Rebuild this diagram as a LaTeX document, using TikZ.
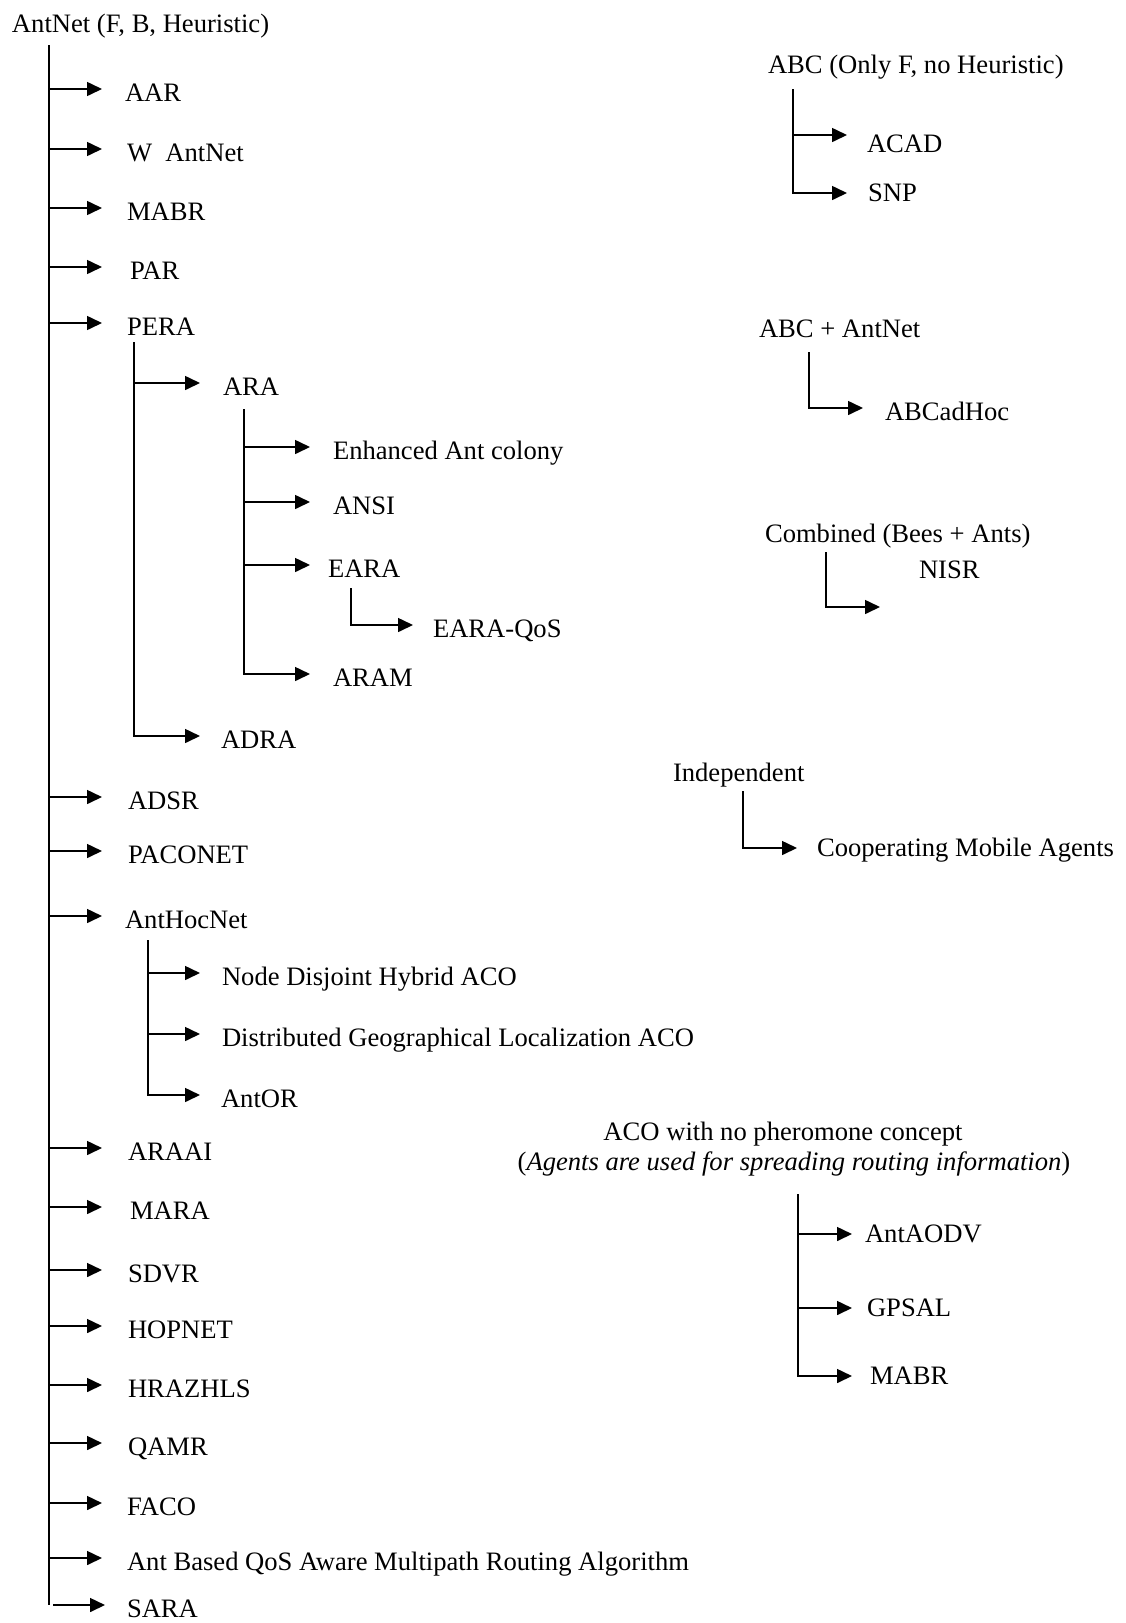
\documentclass[tikz,border=0pt]{standalone}
\usepackage{fontspec}
\setmainfont{Liberation Serif}
\usetikzlibrary{arrows.meta}
\tikzset{>={Triangle[length=15pt,width=14pt]}}

\begin{document}
\begin{tikzpicture}[x=1pt, y=-1pt, font=\fontsize{26.6}{30}\selectfont,
  item/.style={anchor=west, inner xsep=25pt, inner ysep=0pt, outer sep=0pt, text height=24pt, text depth=0pt},
  ritem/.style={item, text height=16pt},
  head/.style={anchor=base west, inner sep=0pt, outer sep=0pt},
  trunk/.style={line width=2.2pt},
  stem/.style={line width=1.6pt},
  branch/.style={->, line width=1.6pt}]
\useasboundingbox (0,0) rectangle (1126,1623);

\node[head] (antnet) at (12,32) {AntNet (F, B, Heuristic)};
\coordinate (top) at (49,45);
\node[item, inner xsep=23pt] (aar) at (102,89) {AAR};
\node[item] (wantnet) at (102,149) {W\hspace{0.5em}AntNet};
\node[item] (mabr) at (102,208) {MABR};
\node[item, inner xsep=28pt] (par) at (102,267) {PAR};
\node[item] (pera) at (102,323) {PERA};
\node[item, inner xsep=26pt] (adsr) at (102,797) {ADSR};
\node[item, inner xsep=26pt] (paconet) at (102,851) {PACONET};
\node[item, inner xsep=23pt] (anthocnet) at (102,916) {AntHocNet};
\node[item, inner xsep=26pt] (araai) at (102,1148) {ARAAI};
\node[item, inner xsep=28pt] (mara) at (102,1207) {MARA};
\node[item, inner xsep=26pt] (sdvr) at (102,1270) {SDVR};
\node[item, inner xsep=26pt] (hopnet) at (102,1326) {HOPNET};
\node[item, inner xsep=26pt] (hrazhls) at (102,1385) {HRAZHLS};
\node[item, inner xsep=26pt] (qamr) at (102,1443) {QAMR};
\node[item] (faco) at (102,1503) {FACO};
\node[item] (abqar) at (102,1558) {Ant Based QoS Aware Multipath Routing Algorithm};
\node[item, inner xsep=22pt] (sara) at (105,1605) {SARA};

\draw[trunk] (top) -- (top |- sara.west);
\draw[branch] (top |- aar.west) -- (aar.west);
\draw[branch] (top |- wantnet.west) -- (wantnet.west);
\draw[branch] (top |- mabr.west) -- (mabr.west);
\draw[branch] (top |- par.west) -- (par.west);
\draw[branch] (top |- pera.west) -- (pera.west);
\draw[branch] (top |- adsr.west) -- (adsr.west);
\draw[branch] (top |- paconet.west) -- (paconet.west);
\draw[branch] (top |- anthocnet.west) -- (anthocnet.west);
\draw[branch] (top |- araai.west) -- (araai.west);
\draw[branch] (top |- mara.west) -- (mara.west);
\draw[branch] (top |- sdvr.west) -- (sdvr.west);
\draw[branch] (top |- hopnet.west) -- (hopnet.west);
\draw[branch] (top |- hrazhls.west) -- (hrazhls.west);
\draw[branch] (top |- qamr.west) -- (qamr.west);
\draw[branch] (top |- faco.west) -- (faco.west);
\draw[branch] (top |- abqar.west) -- (abqar.west);
\draw[branch] ([xshift=4pt]top |- sara.west) -- (sara.west);

\coordinate (pera-t) at (134,342);
\node[item, inner xsep=23pt] (ara) at (200,383) {ARA};
\node[item, inner xsep=21pt] (adra) at (200,736) {ADRA};
\draw[branch] (pera-t |- ara.west) -- (ara.west);
\draw[branch] (pera-t) |- (adra.west);

\coordinate (ara-t) at (244,409);
\node[item, inner xsep=23pt] (eac) at (310,447) {Enhanced Ant colony};
\node[item, inner xsep=23pt] (ansi) at (310,502) {ANSI};
\node[item, inner xsep=18pt] (eara) at (310,565) {EARA};
\node[item, inner xsep=23pt] (aram) at (310,674) {ARAM};
\draw[branch] (ara-t |- eac.west) -- (eac.west);
\draw[branch] (ara-t |- ansi.west) -- (ansi.west);
\draw[branch] (ara-t |- eara.west) -- (eara.west);
\draw[branch] (ara-t) |- (aram.west);

\coordinate (eara-t) at (351,588);
\node[item, inner xsep=20pt] (earaqos) at (413,625) {EARA-QoS};
\draw[branch] (eara-t) |- (earaqos.west);

\coordinate (ahn-t) at (148,940);
\node[item, inner xsep=22pt] (ndh) at (200,973) {Node Disjoint Hybrid ACO};
\node[item, inner xsep=22pt] (dgl) at (200,1034) {Distributed Geographical Localization ACO};
\node[item, inner xsep=21pt] (antor) at (200,1095) {AntOR};
\draw[branch] (ahn-t |- ndh.west) -- (ndh.west);
\draw[branch] (ahn-t |- dgl.west) -- (dgl.west);
\draw[branch] (ahn-t) |- (antor.west);

\node[head] (abc) at (768,73) {ABC (Only F, no Heuristic)};
\coordinate (abc-t) at (793,89);
\node[ritem, inner xsep=20pt, text height=34pt] (acad) at (847,135) {ACAD};
\node[ritem, inner xsep=21pt] (snp) at (847,193) {SNP};
\draw[branch] (abc-t |- acad.west) -- (acad.west);
\draw[branch] (abc-t) |- (snp.west);

\node[head] (abcant) at (759,337) {ABC + AntNet};
\coordinate (abcant-t) at (809,352);
\node[item, inner xsep=22pt] (abcadhoc) at (863,408) {ABCadHoc};
\draw[branch] (abcant-t) |- (abcadhoc.west);

\node[head] (comb) at (765,542) {Combined (Bees + Ants)};
\node[head] (nisr) at (919,578) {NISR};
\coordinate (comb-t) at (826,552);
\coordinate (comb-e) at (880,607);
\draw[branch] (comb-t) |- (comb-e);

\node[head] (indep) at (673,781) {Independent};
\coordinate (indep-t) at (743,791);
\node[ritem, inner xsep=20pt] (coop) at (797,848) {Cooperating Mobile Agents};
\draw[branch] (indep-t) |- (coop.west);

\node[head, anchor=base] (aco) at (783,1140) {ACO with no pheromone concept};
\node[head, anchor=base] (aconote) at (794,1170) {(\textit{Agents are used for spreading routing information})};
\coordinate (aco-t) at (798,1194);
\node[ritem, inner xsep=13pt] (antaodv) at (852,1234) {AntAODV};
\node[ritem, inner xsep=15pt] (gpsal) at (852,1308) {GPSAL};
\node[ritem, inner xsep=18pt] (mabrb) at (852,1376) {MABR};
\draw[branch] (aco-t |- antaodv.west) -- (antaodv.west);
\draw[branch] (aco-t |- gpsal.west) -- (gpsal.west);
\draw[branch] (aco-t) |- (mabrb.west);
\end{tikzpicture}
\end{document}
